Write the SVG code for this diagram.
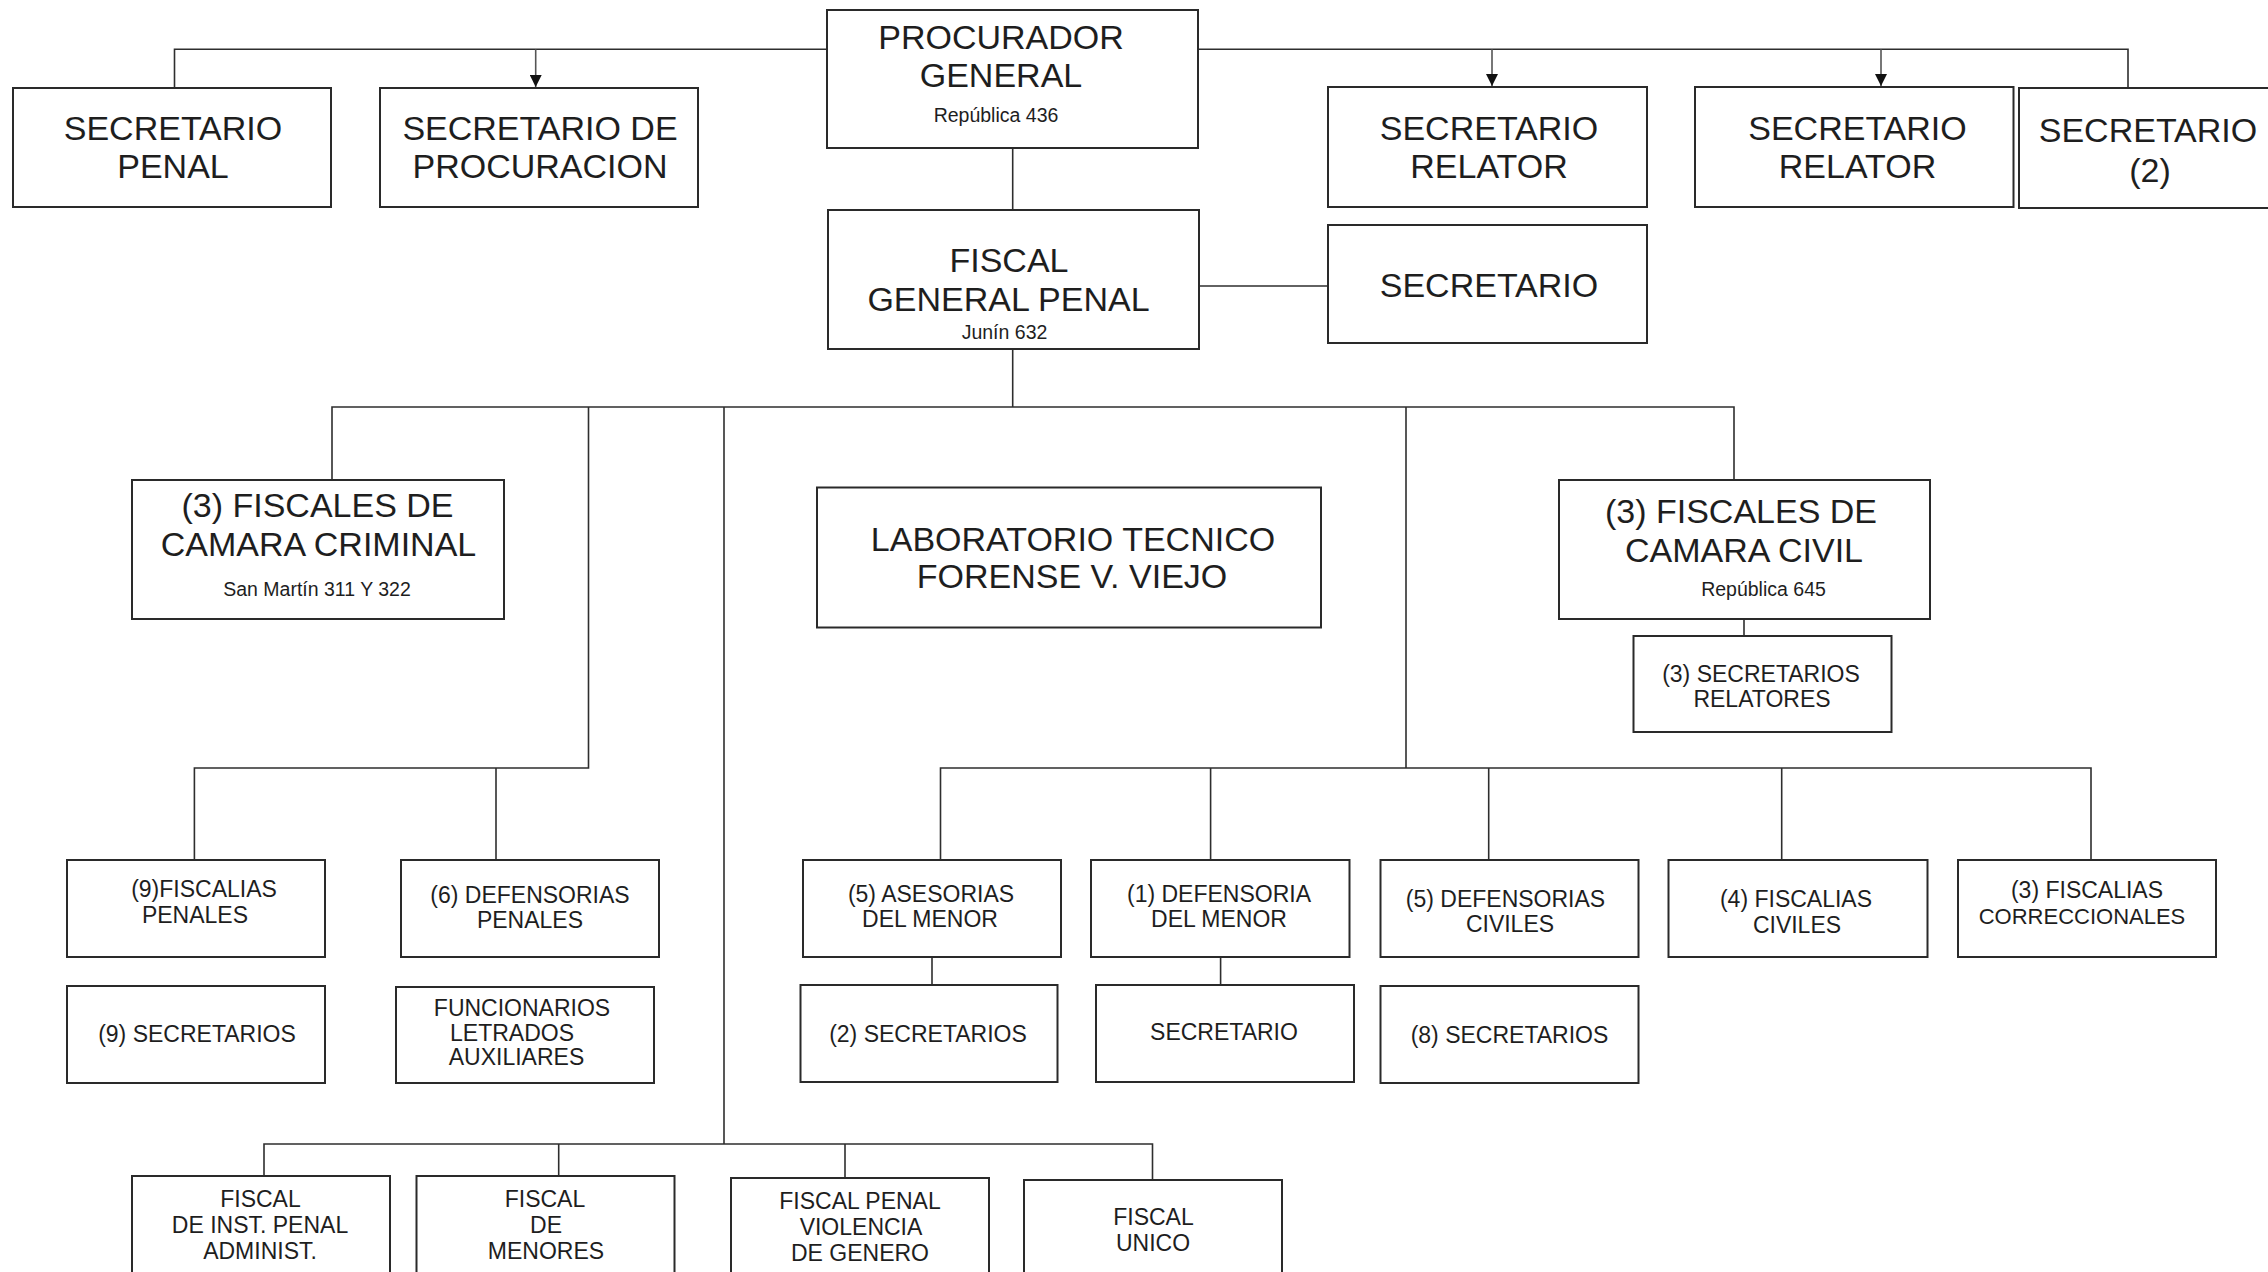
<svg xmlns="http://www.w3.org/2000/svg" width="2268" height="1272" viewBox="0 0 2268 1272">
<style>
.box{fill:#fff;stroke:#2a2a2a;stroke-width:2}
.ln{fill:none;stroke:#2e2e2e;stroke-width:1.6}
.ar{fill:none;stroke:#555;stroke-width:1.6}
text{font-family:"Liberation Sans",Arial,sans-serif;fill:#1e1e1e;text-anchor:middle}
.big{font-size:34px}
.sub{font-size:19.5px}
.sm{font-size:23px}
</style>
<defs>
<marker id="arr" viewBox="0 0 12 12" refX="12" refY="6" markerWidth="12" markerHeight="12" markerUnits="userSpaceOnUse" orient="auto">
<path d="M0,0 L12,6 L0,12 Z" fill="#111"/>
</marker>
</defs>
<rect width="2268" height="1272" fill="#fff"/>
<g id="connectors">
<path class="ln" d="M174.5 88 V49.3 H827"/>
<path class="ln" d="M1198 49.3 H2128 V88"/>
<path class="ar" d="M535.7 49.3 V87" marker-end="url(#arr)"/>
<path class="ar" d="M1492 49.3 V86" marker-end="url(#arr)"/>
<path class="ar" d="M1881 49.3 V86" marker-end="url(#arr)"/>
<path class="ln" d="M1012.7 148 V210"/>
<path class="ln" d="M1199 286 H1328"/>
<path class="ln" d="M1012.7 349 V407"/>
<path class="ln" d="M332 480 V407 H1734 V480"/>
<path class="ln" d="M588.5 407 V768 H194.4 V860"/>
<path class="ln" d="M496 768 V860"/>
<path class="ln" d="M724 407 V1144"/>
<path class="ln" d="M1406 407 V768"/>
<path class="ln" d="M1744 619 V636"/>
<path class="ln" d="M940.5 860 V768 H2091 V860"/>
<path class="ln" d="M1210.6 768 V860"/>
<path class="ln" d="M1488.7 768 V860"/>
<path class="ln" d="M1781.7 768 V860"/>
<path class="ln" d="M932 957 V985"/>
<path class="ln" d="M1220.6 957 V985"/>
<path class="ln" d="M264 1176 V1144 H1152.5 V1180"/>
<path class="ln" d="M558.7 1144 V1176"/>
<path class="ln" d="M845 1144 V1178"/>
</g>
<g id="procurador">
<rect class="box" x="827" y="10" width="371" height="138"/>
<text class="big" x="1001" y="48.5">PROCURADOR</text>
<text class="big" x="1001" y="87">GENERAL</text>
<text class="sub" x="996" y="122">República 436</text>
</g>
<g id="secretario-penal">
<rect class="box" x="13" y="88" width="318" height="119"/>
<text class="big" x="173" y="139.5">SECRETARIO</text>
<text class="big" x="173" y="177.5">PENAL</text>
</g>
<g id="secretario-procuracion">
<rect class="box" x="380" y="88" width="318" height="119"/>
<text class="big" x="540" y="139.5">SECRETARIO DE</text>
<text class="big" x="540" y="177.5">PROCURACION</text>
</g>
<g id="secretario-relator-1">
<rect class="box" x="1328" y="87" width="319" height="120"/>
<text class="big" x="1489" y="139.5">SECRETARIO</text>
<text class="big" x="1489" y="177.5">RELATOR</text>
</g>
<g id="secretario-relator-2">
<rect class="box" x="1695" y="87" width="318.5" height="120"/>
<text class="big" x="1857.5" y="139.5">SECRETARIO</text>
<text class="big" x="1857.5" y="177.5">RELATOR</text>
</g>
<g id="secretario-2">
<rect class="box" x="2019" y="88" width="270" height="120"/>
<text class="big" x="2148" y="142">SECRETARIO</text>
<text class="big" x="2150" y="181.5">(2)</text>
</g>
<g id="fiscal-general-penal">
<rect class="box" x="828" y="210" width="371" height="139"/>
<text class="big" x="1009" y="272">FISCAL</text>
<text class="big" x="1008.5" y="311">GENERAL PENAL</text>
<text class="sub" x="1004.5" y="338.5">Junín 632</text>
</g>
<g id="secretario-fgp">
<rect class="box" x="1328" y="225" width="319" height="118"/>
<text class="big" x="1489" y="297">SECRETARIO</text>
</g>
<g id="fiscales-camara-criminal">
<rect class="box" x="132" y="480" width="372" height="139"/>
<text class="big" x="317.5" y="517">(3) FISCALES DE</text>
<text class="big" x="318.5" y="555.5">CAMARA CRIMINAL</text>
<text class="sub" x="317" y="595.5">San Martín 311 Y 322</text>
</g>
<g id="laboratorio">
<rect class="box" x="817" y="487.5" width="504" height="140"/>
<text class="big" x="1073" y="551">LABORATORIO TECNICO</text>
<text class="big" x="1072" y="587.5">FORENSE V. VIEJO</text>
</g>
<g id="fiscales-camara-civil">
<rect class="box" x="1559" y="480" width="371" height="139"/>
<text class="big" x="1741" y="523">(3) FISCALES DE</text>
<text class="big" x="1744" y="562">CAMARA CIVIL</text>
<text class="sub" x="1763.5" y="596">República 645</text>
</g>
<g id="secretarios-relatores">
<rect class="box" x="1633.5" y="636" width="258" height="96"/>
<text class="sm" x="1761" y="681.5">(3) SECRETARIOS</text>
<text class="sm" x="1762" y="706.5">RELATORES</text>
</g>
<g id="fiscalias-penales">
<rect class="box" x="67" y="860" width="258" height="97"/>
<text class="sm" x="204" y="897">(9)FISCALIAS</text>
<text class="sm" x="195" y="923">PENALES</text>
</g>
<g id="defensorias-penales">
<rect class="box" x="401" y="860" width="258" height="97"/>
<text class="sm" x="530" y="903">(6) DEFENSORIAS</text>
<text class="sm" x="530" y="928">PENALES</text>
</g>
<g id="nueve-secretarios">
<rect class="box" x="67" y="986" width="258" height="97"/>
<text class="sm" x="197" y="1042">(9) SECRETARIOS</text>
</g>
<g id="funcionarios">
<rect class="box" x="396" y="987" width="258" height="96"/>
<text class="sm" x="522" y="1016">FUNCIONARIOS</text>
<text class="sm" x="512" y="1041">LETRADOS</text>
<text class="sm" x="516.5" y="1065">AUXILIARES</text>
</g>
<g id="asesorias-menor">
<rect class="box" x="803" y="860" width="258" height="97"/>
<text class="sm" x="931" y="901.5">(5) ASESORIAS</text>
<text class="sm" x="930" y="927">DEL MENOR</text>
</g>
<g id="dos-secretarios">
<rect class="box" x="800.5" y="985" width="257" height="97"/>
<text class="sm" x="928" y="1041.5">(2) SECRETARIOS</text>
</g>
<g id="defensoria-menor">
<rect class="box" x="1091" y="860" width="258.5" height="97"/>
<text class="sm" x="1219" y="901.5">(1) DEFENSORIA</text>
<text class="sm" x="1219" y="926.5">DEL MENOR</text>
</g>
<g id="secretario-dm">
<rect class="box" x="1096" y="985" width="258" height="97"/>
<text class="sm" x="1224" y="1040">SECRETARIO</text>
</g>
<g id="defensorias-civiles">
<rect class="box" x="1380.5" y="860" width="258" height="97"/>
<text class="sm" x="1505.5" y="906.5">(5) DEFENSORIAS</text>
<text class="sm" x="1510" y="931.5">CIVILES</text>
</g>
<g id="ocho-secretarios">
<rect class="box" x="1380.5" y="986" width="258" height="97"/>
<text class="sm" x="1509.5" y="1042.5">(8) SECRETARIOS</text>
</g>
<g id="fiscalias-civiles">
<rect class="box" x="1668.5" y="860" width="259" height="97"/>
<text class="sm" x="1796" y="906.5">(4) FISCALIAS</text>
<text class="sm" x="1797" y="932.5">CIVILES</text>
</g>
<g id="fiscalias-correccionales">
<rect class="box" x="1958" y="860" width="258" height="97"/>
<text class="sm" x="2087" y="898">(3) FISCALIAS</text>
<text class="sm" x="2082" y="923.5" style="font-size:22px">CORRECCIONALES</text>
</g>
<g id="fiscal-inst-penal">
<rect class="box" x="132" y="1176" width="258" height="130"/>
<text class="sm" x="260.5" y="1206.5">FISCAL</text>
<text class="sm" x="260" y="1233">DE INST. PENAL</text>
<text class="sm" x="260" y="1259">ADMINIST.</text>
</g>
<g id="fiscal-menores">
<rect class="box" x="416.5" y="1176" width="258" height="130"/>
<text class="sm" x="545" y="1206.5">FISCAL</text>
<text class="sm" x="546" y="1233">DE</text>
<text class="sm" x="546" y="1259">MENORES</text>
</g>
<g id="fiscal-violencia">
<rect class="box" x="731" y="1178" width="258" height="130"/>
<text class="sm" x="860" y="1209">FISCAL PENAL</text>
<text class="sm" x="861" y="1235">VIOLENCIA</text>
<text class="sm" x="860" y="1260.5">DE GENERO</text>
</g>
<g id="fiscal-unico">
<rect class="box" x="1024" y="1180" width="258" height="130"/>
<text class="sm" x="1153.5" y="1225">FISCAL</text>
<text class="sm" x="1153" y="1250.5">UNICO</text>
</g>
</svg>
